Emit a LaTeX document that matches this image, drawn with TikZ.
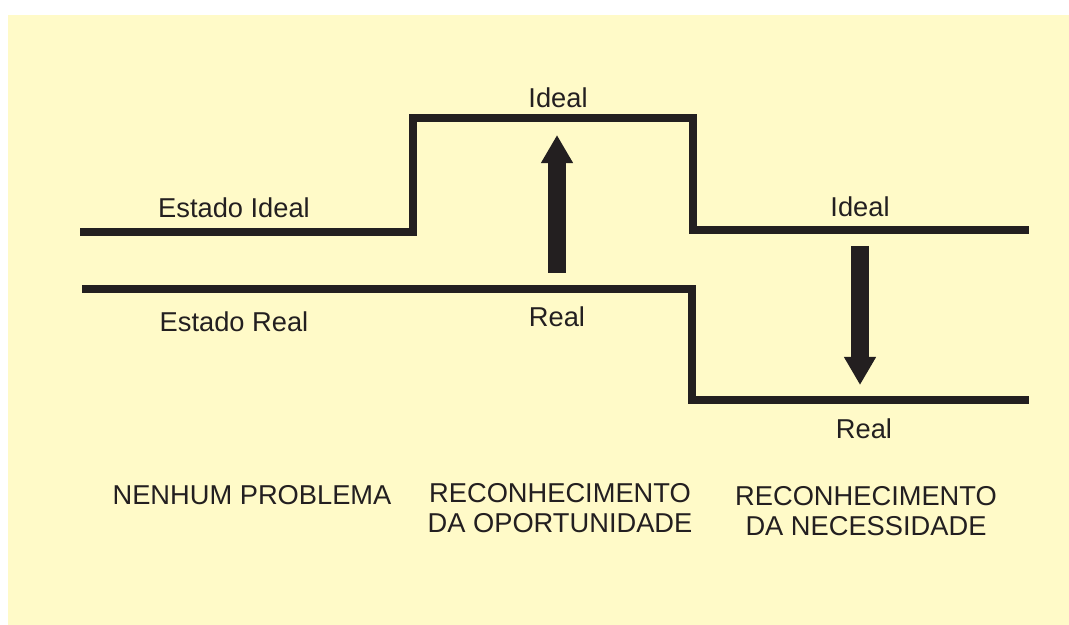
\documentclass[tikz,border=0pt]{standalone}
\usepackage{fontspec}
\setmainfont{Liberation Sans}
\usetikzlibrary{arrows.meta}
\definecolor{paper}{HTML}{FFFAC8}
\definecolor{ink}{HTML}{231F20}
\tikzset{
step line/.style={draw=ink, line width=5pt, line join=miter},
big arrow/.style={draw=ink, line width=12.8pt, -{Triangle[length=20pt, width=21.5pt]}},
lbl/.style={text=ink, font=\fontsize{19.4}{20.8}\selectfont, inner sep=0pt, align=center}
}
\begin{document}
\begin{tikzpicture}[x=0.25mm, y=-0.25mm]
\useasboundingbox (0,0) rectangle (1069,625);
\fill[paper] (8,15) rectangle (1069,625);
% ideal
\coordinate (i0) at (80,232);
\coordinate (i1) at (413,232);
\coordinate (i2) at (413,118);
\coordinate (i3) at (693,118);
\coordinate (i4) at (693,230);
\coordinate (i5) at (1029,230);
\draw[step line] (i0) -- (i1) -- (i2) -- (i3) -- (i4) -- (i5);
% real
\coordinate (r0) at (82,289);
\coordinate (r1) at (692,289);
\coordinate (r2) at (692,400);
\coordinate (r3) at (1029,400);
\draw[step line] (r0) -- (r1) -- (r2) -- (r3);
% arrows
\coordinate (up0) at (557,273);
\coordinate (up1) at (557,135);
\coordinate (dn0) at (860,246);
\coordinate (dn1) at (860,385);
\draw[big arrow] (up0) -- (up1);
\draw[big arrow] (dn0) -- (dn1);
% labels
\node[lbl] (estideal) at (234,208) {Estado Ideal};
\node[lbl] (estreal) at (234,322) {Estado Real};
\node[lbl] (idealA) at (558,98) {Ideal};
\node[lbl] (realA) at (557,317) {Real};
\node[lbl] (idealB) at (860,207) {Ideal};
\node[lbl] (realB) at (864,429) {Real};
\node[lbl] (nenhum) at (252,495) {NENHUM PROBLEMA};
\node[lbl] (oport) at (560,508) {RECONHECIMENTO\\DA OPORTUNIDADE};
\node[lbl] (neces) at (866,511) {RECONHECIMENTO\\DA NECESSIDADE};
\end{tikzpicture}
\end{document}
